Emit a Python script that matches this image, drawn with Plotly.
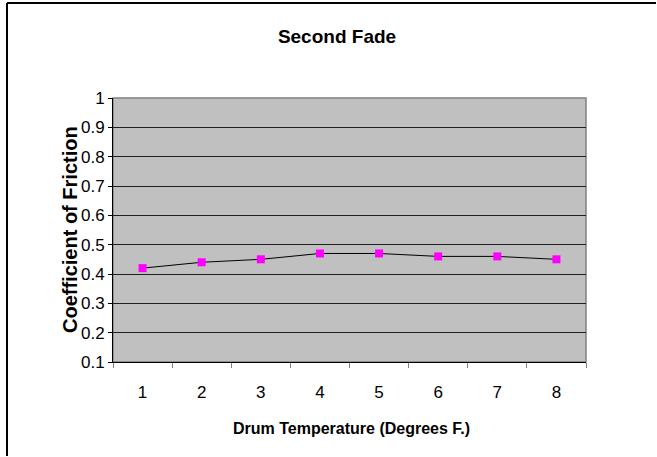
import plotly.graph_objects as go

categories = ["1", "2", "3", "4", "5", "6", "7", "8"]
friction = [0.42, 0.44, 0.45, 0.47, 0.47, 0.46, 0.46, 0.45]
y_tickvals = [0.1, 0.2, 0.3, 0.4, 0.5, 0.6, 0.7, 0.8, 0.9, 1.0]
y_ticktext = ["0.1", "0.2", "0.3", "0.4", "0.5", "0.6", "0.7", "0.8", "0.9", "1"]

W, H = 657, 457
pw, ph = 473, 264
L, T = 113, 98
R, B = W - L - pw, H - T - ph

font = "Liberation Sans, Arial, sans-serif"

fig = go.Figure()
fig.add_trace(go.Scatter(
    x=categories, y=friction, mode="lines+markers",
    line=dict(color="black", width=1),
    marker=dict(symbol="square", size=8, color="#FF00FF", line=dict(width=0)),
    showlegend=False,
))

bx0 = (7 - L) / pw          # outer frame left edge (paper units)
by1 = 1 + (T - 3) / ph      # outer frame top edge (paper units)
bx1 = (W - 1 - L) / pw
by0 = -(B - 1) / ph

fig.update_layout(
    width=W, height=H,
    margin=dict(l=L, r=R, t=T, b=B),
    paper_bgcolor="white", plot_bgcolor="#C0C0C0",
    title=dict(text="<b>Second Fade</b>", x=337 / W, xanchor="center",
               y=1 - 36 / H, yanchor="middle", yref="container",
               font=dict(family=font, size=19, color="black")),
    xaxis=dict(type="category", range=[-0.5, 7.5], tickson="boundaries",
               ticks="outside", ticklen=5, tickcolor="#808080", tickwidth=1,
               showline=True, linecolor="black", linewidth=1,
               showgrid=False, zeroline=False, ticklabelstandoff=15,
               tickfont=dict(family=font, size=17, color="black")),
    yaxis=dict(range=[0.1, 1.0], tickvals=y_tickvals, ticktext=y_ticktext,
               ticks="outside", ticklen=4, tickcolor="black",
               showline=True, linecolor="black", linewidth=1,
               showgrid=True, gridcolor="#202020", gridwidth=1, zeroline=False,
               tickfont=dict(family=font, size=17, color="black")),
    shapes=[
        dict(type="rect", xref="paper", yref="paper", x0=0, y0=0, x1=1, y1=1,
             line=dict(color="#808080", width=1.5), layer="below"),
        dict(type="line", xref="paper", yref="paper",
             x0=bx0, y0=by1, x1=bx1, y1=by1,
             line=dict(color="black", width=2), layer="above"),
        dict(type="line", xref="paper", yref="paper",
             x0=bx0, y0=by0, x1=bx0, y1=by1,
             line=dict(color="black", width=2), layer="above"),
    ],
    annotations=[
        dict(text="<b>Coefficient of Friction</b>", xref="paper", yref="paper",
             x=(70 - L) / pw, y=0.5, xanchor="center", yanchor="middle",
             textangle=-90, showarrow=False,
             font=dict(family=font, size=20, color="black")),
        dict(text="<b>Drum Temperature (Degrees F.)</b>", xref="paper", yref="paper",
             x=(351 - L) / pw, y=-(428 - (T + ph)) / ph, xanchor="center", yanchor="middle",
             showarrow=False, font=dict(family=font, size=16, color="black")),
    ],
)

fig.write_html(
    "out.html", config={"displayModeBar": False},
    post_script=("document.documentElement.style.margin='0px';"
                 "document.body.style.margin='0px';"
                 "document.body.style.overflow='hidden';"
                 "window.scrollTo(0,0);"),
)
